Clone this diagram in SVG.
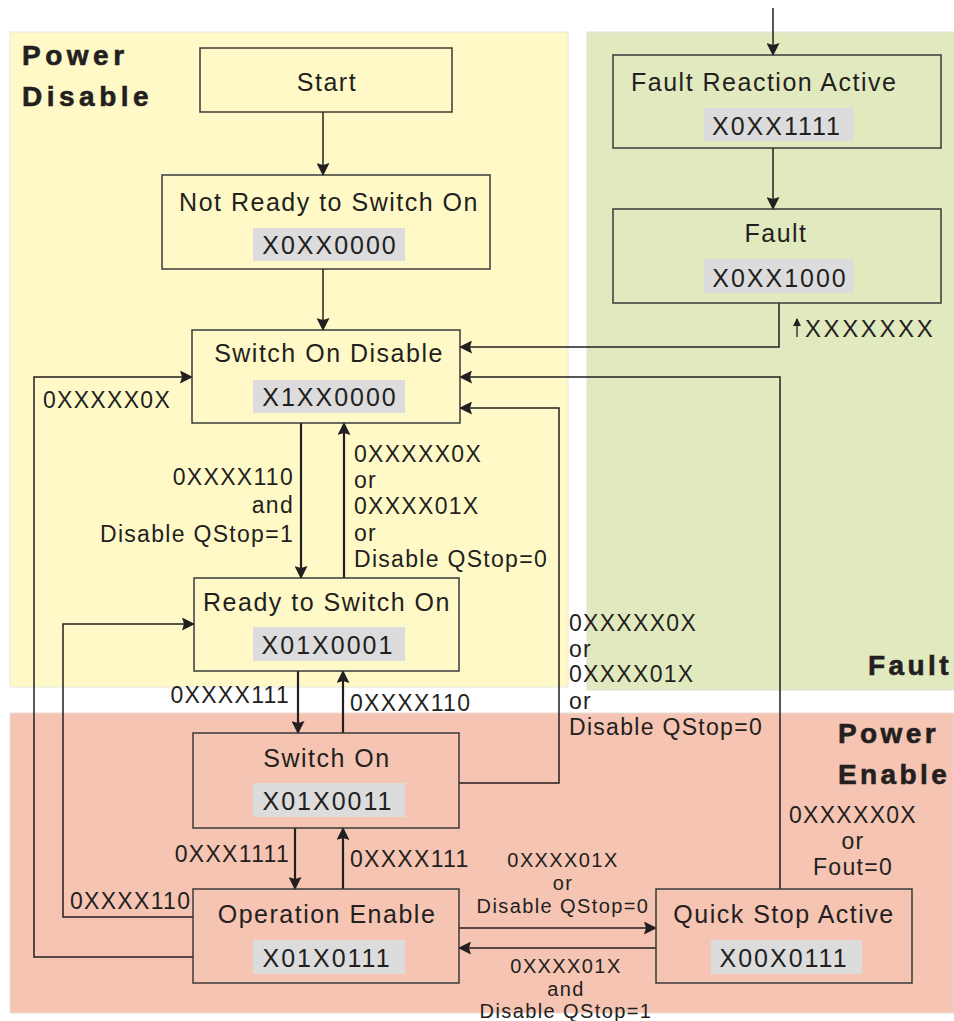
<svg xmlns="http://www.w3.org/2000/svg" width="954" height="1021" viewBox="0 0 954 1021">
<defs>
<marker id="ah" markerUnits="userSpaceOnUse" markerWidth="13" markerHeight="13" viewBox="0 0 13 13" refX="12" refY="6.5" orient="auto">
<path d="M0,0 L13,6.5 L0,13 L2,6.5 z" fill="#231f20"/>
</marker>
<marker id="ahs" markerUnits="userSpaceOnUse" markerWidth="8" markerHeight="8" viewBox="0 0 8 8" refX="7" refY="4" orient="auto">
<path d="M0,0 L8,4 L0,8 z" fill="#231f20"/>
</marker>
<style>
text{font-family:"Liberation Sans",Arial,sans-serif;fill:#231f20}
.t{font-size:25px;letter-spacing:1.5px;text-anchor:middle}
.ts{font-size:25px;letter-spacing:1.5px;text-anchor:start}
.c{font-size:25px;letter-spacing:2px;text-anchor:middle}
.l{font-size:23px;letter-spacing:1.3px}
.s{font-size:20px;letter-spacing:1.4px;text-anchor:middle}
.r{font-size:28px;font-weight:bold;letter-spacing:4.5px;stroke:#231f20;stroke-width:0.6px}
.re{font-size:28px;font-weight:bold;letter-spacing:3.4px;stroke:#231f20;stroke-width:0.6px}
.box{stroke:#3a3a3a;stroke-width:1.5;fill:none}
.code{fill:#dcdcdc}
.cn{fill:none;stroke:#231f20;stroke-width:1.5}
.cv{fill:none;stroke:#231f20;stroke-width:2.2}
</style>
</defs>
<g id="regions">
<rect x="10" y="32" width="558" height="655" fill="#fff9c8" stroke="#e6e6e0" stroke-width="1"/>
<rect x="587" y="32" width="367" height="658" fill="#e1e9bf" stroke="#e0e2d8" stroke-width="1"/>
<rect x="10" y="713" width="944" height="300" fill="#f5c4b2" stroke="#e8dcd8" stroke-width="1"/>
<text class="r" x="22" y="65">Power</text>
<text class="r" x="22" y="106">Disable</text>
<text class="re" x="868" y="675">Fault</text>
<text class="re" x="838" y="743">Power</text>
<text class="re" x="838" y="784">Enable</text>
</g>
<g id="connectors">
<line class="cn" x1="773" y1="8" x2="773" y2="55" marker-end="url(#ah)"/>
<line class="cn" x1="773" y1="148" x2="773" y2="209" marker-end="url(#ah)"/>
<line class="cn" x1="323" y1="112" x2="323" y2="175" marker-end="url(#ah)"/>
<line class="cn" x1="323" y1="269" x2="323" y2="330" marker-end="url(#ah)"/>
<polyline class="cn" points="779,303 779,347 460,347" marker-end="url(#ah)"/>
<polyline class="cn" points="780,889 780,377 460,377" marker-end="url(#ah)"/>
<polyline class="cn" points="459,783 559,783 559,408 460,408" marker-end="url(#ah)"/>
<line class="cv" x1="301" y1="423" x2="301" y2="578" marker-end="url(#ah)"/>
<line class="cv" x1="344" y1="578" x2="344" y2="423" marker-end="url(#ah)"/>
<polyline class="cn" points="193,957 34,957 34,377 192,377" marker-end="url(#ah)"/>
<polyline class="cn" points="193,917 63,917 63,624 194,624" marker-end="url(#ah)"/>
<line class="cv" x1="298" y1="671" x2="298" y2="733" marker-end="url(#ah)"/>
<line class="cv" x1="343" y1="733" x2="343" y2="671" marker-end="url(#ah)"/>
<line class="cv" x1="295" y1="828" x2="295" y2="889" marker-end="url(#ah)"/>
<line class="cv" x1="343" y1="889" x2="343" y2="828" marker-end="url(#ah)"/>
<line class="cn" x1="459" y1="928" x2="656" y2="928" marker-end="url(#ah)"/>
<line class="cn" x1="656" y1="948" x2="459" y2="948" marker-end="url(#ah)"/>
<line x1="797" y1="337" x2="797" y2="319" stroke="#231f20" stroke-width="1.3" marker-end="url(#ahs)"/>
<text class="l" x="805" y="337" style="font-size:24px;letter-spacing:2.6px">XXXXXXX</text>
<text class="l" x="43" y="408">0XXXXX0X</text>
<text class="l" x="294" y="485" text-anchor="end">0XXXX110</text>
<text class="l" x="294" y="513" text-anchor="end">and</text>
<text class="l" x="294" y="542" text-anchor="end">Disable QStop=1</text>
<text class="l" x="354" y="462">0XXXXX0X</text>
<text class="l" x="354" y="488">or</text>
<text class="l" x="354" y="514">0XXXX01X</text>
<text class="l" x="354" y="541">or</text>
<text class="l" x="354" y="567">Disable QStop=0</text>
<text class="l" x="569" y="631">0XXXXX0X</text>
<text class="l" x="569" y="657">or</text>
<text class="l" x="569" y="682">0XXXX01X</text>
<text class="l" x="569" y="709">or</text>
<text class="l" x="569" y="735">Disable QStop=0</text>
<text class="l" x="290" y="703" text-anchor="end">0XXXX111</text>
<text class="l" x="350" y="711">0XXXX110</text>
<text class="l" x="290" y="862" text-anchor="end">0XXX1111</text>
<text class="l" x="350" y="867">0XXXX111</text>
<text class="l" x="70" y="909">0XXXX110</text>
<text class="l" x="853" y="823" text-anchor="middle">0XXXXX0X</text>
<text class="l" x="853" y="849" text-anchor="middle">or</text>
<text class="l" x="853" y="875" text-anchor="middle">Fout=0</text>
<text class="s" x="563" y="867">0XXXX01X</text>
<text class="s" x="563" y="890">or</text>
<text class="s" x="563" y="913">Disable QStop=0</text>
<text class="s" x="566" y="973">0XXXX01X</text>
<text class="s" x="566" y="996">and</text>
<text class="s" x="566" y="1018">Disable QStop=1</text>
</g>
<g id="start">
<rect class="box" x="200" y="48" width="252" height="64"/>
<text class="t" x="327" y="91">Start</text>
</g>
<g id="not-ready">
<rect class="box" x="162" y="175" width="328" height="94"/>
<text class="t" x="329" y="211">Not Ready to Switch On</text>
<rect class="code" x="253" y="228" width="152" height="33"/>
<text class="c" x="330" y="254">X0XX0000</text>
</g>
<g id="fault-reaction">
<rect class="box" x="613" y="55" width="328" height="93"/>
<text class="ts" x="631" y="91">Fault Reaction Active</text>
<rect class="code" x="704" y="108" width="150" height="33"/>
<text class="c" x="777" y="135">X0XX1111</text>
</g>
<g id="fault">
<rect class="box" x="613" y="209" width="328" height="94"/>
<text class="t" x="776" y="242">Fault</text>
<rect class="code" x="704" y="259" width="150" height="34"/>
<text class="c" x="780" y="287">X0XX1000</text>
</g>
<g id="switch-on-disable">
<rect class="box" x="192" y="330" width="268" height="93"/>
<text class="t" x="329" y="362">Switch On Disable</text>
<rect class="code" x="253" y="380" width="152" height="33"/>
<text class="c" x="330" y="406">X1XX0000</text>
</g>
<g id="ready">
<rect class="box" x="194" y="578" width="265" height="93"/>
<text class="t" x="327" y="611">Ready to Switch On</text>
<rect class="code" x="253" y="627" width="152" height="34"/>
<text class="c" x="328" y="654">X01X0001</text>
</g>
<g id="switch-on">
<rect class="box" x="193" y="733" width="266" height="95"/>
<text class="t" x="327" y="767">Switch On</text>
<rect class="code" x="253" y="783" width="152" height="34"/>
<text class="c" x="328" y="810">X01X0011</text>
</g>
<g id="operation-enable">
<rect class="box" x="193" y="889" width="266" height="94"/>
<text class="t" x="327" y="923">Operation Enable</text>
<rect class="code" x="253" y="940" width="152" height="34"/>
<text class="c" x="327" y="967">X01X0111</text>
</g>
<g id="quick-stop">
<rect class="box" x="656" y="889" width="256" height="94"/>
<text class="t" x="784" y="923">Quick Stop Active</text>
<rect class="code" x="711" y="940" width="151" height="34"/>
<text class="c" x="784" y="967">X00X0111</text>
</g>
</svg>
